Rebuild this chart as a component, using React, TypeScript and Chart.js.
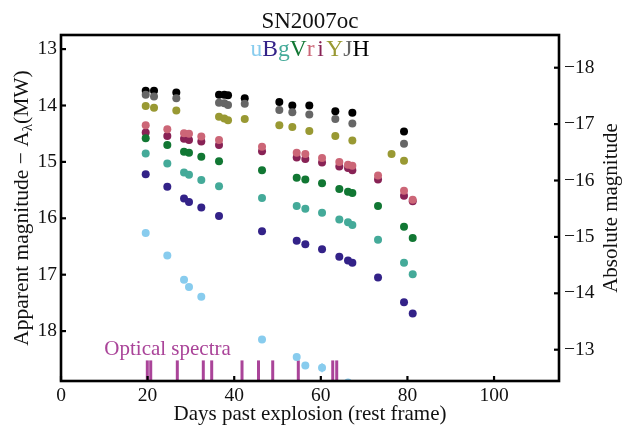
import React, { useEffect, useRef } from 'react';
import { Chart, registerables } from 'chart.js';

Chart.register(...registerables);

// ---- photometry (days past explosion, rest frame; apparent magnitude) ----
const uDays = [19.56, 24.55, 28.41, 29.56, 32.4, 46.42, 54.43, 56.42, 60.28, 66.28];
const uMags = [16.26, 16.66, 17.09, 17.22, 17.39, 18.15, 18.46, 18.61, 18.65, 18.91];
const uErrs = [0.03, 0.03, 0.03, 0.03, 0.03, 0.04, 0.05, 0.05, 0.08, 0.03];

const optDays = [19.56, 24.55, 28.41, 29.56, 32.4, 36.49, 46.42, 54.43, 56.42, 60.28, 64.27, 66.28, 67.28, 73.21, 79.21, 81.22];
const bMags = [15.22, 15.44, 15.65, 15.71, 15.81, 15.96, 16.23, 16.4, 16.46, 16.55, 16.68, 16.75, 16.79, 17.05, 17.49, 17.69];
const gMags = [14.85, 15.03, 15.19, 15.23, 15.32, 15.43, 15.64, 15.78, 15.83, 15.9, 16.02, 16.07, 16.12, 16.38, 16.79, 16.99];
const vMags = [14.58, 14.7, 14.82, 14.84, 14.91, 14.99, 15.15, 15.28, 15.31, 15.38, 15.48, 15.53, 15.55, 15.78, 16.15, 16.35];
const rMags = [14.35, 14.42, 14.49, 14.5, 14.55, 14.61, 14.73, 14.84, 14.86, 14.93, 15.0, 15.05, 15.07, 15.24, 15.51, 15.67];
const iMags = [14.48, 14.54, 14.59, 14.61, 14.64, 14.7, 14.81, 14.92, 14.95, 15.01, 15.08, 15.11, 15.15, 15.31, 15.6, 15.7];

const nirDays = [19.56, 21.48, 26.63, 36.49, 37.71, 38.57, 42.43, 50.42, 53.42, 57.34, 63.35, 67.28, 79.21];
const hMags = [13.74, 13.74, 13.77, 13.81, 13.81, 13.82, 13.87, 13.94, 14.0, 14.0, 14.1, 14.13, 14.46];
const jMags = [13.81, 13.84, 13.87, 13.95, 13.96, 13.99, 13.97, 14.08, 14.12, 14.16, 14.24, 14.32, 14.68];
const yDays = [19.56, 21.48, 26.63, 36.49, 37.71, 38.57, 42.43, 50.42, 53.42, 57.34, 63.35, 67.28, 76.33, 79.21];
const yMags = [14.01, 14.04, 14.09, 14.2, 14.23, 14.26, 14.24, 14.35, 14.38, 14.45, 14.54, 14.62, 14.86, 14.98];

// epochs of optical spectra
const spectraDays = [19.93, 20.72, 26.86, 32.86, 34.8, 41.8, 45.61, 48.89, 54.8, 62.75, 63.67];

// ---- axes ----
const xTicks = [0, 20, 40, 60, 80, 100];
const appTicks = [13, 14, 15, 16, 17, 18];
const absTicks = [-18, -17, -16, -15, -14, -13];
const xRange = [0, 115];
const appRange = [12.75, 18.885];
const distanceModulus = 31.33;

const FONT = '"Liberation Serif", "DejaVu Serif", serif';
const SPECTRA_COLOR = '#AA4499';

const bands = [
  { name: 'u', color: '#88CCEE', days: uDays, mags: uMags },
  { name: 'B', color: '#332288', days: optDays, mags: bMags },
  { name: 'g', color: '#44AA99', days: optDays, mags: gMags },
  { name: 'V', color: '#117733', days: optDays, mags: vMags },
  { name: 'r', color: '#CC6677', days: optDays, mags: rMags },
  { name: 'i', color: '#882255', days: optDays, mags: iMags },
  { name: 'Y', color: '#999933', days: yDays, mags: yMags },
  { name: 'J', color: '#666666', days: nirDays, mags: jMags },
  { name: 'H', color: '#000000', days: nirDays, mags: hMags },
];

const legendOrder = ['u', 'B', 'g', 'V', 'r', ' ', 'i', ' ', 'Y', 'J', 'H'];

const fmtMinus = (v: number) => (v < 0 ? '\u2212' + Math.abs(v) : String(v));

const decorations = {
  id: 'decorations',
  beforeDatasetsDraw(chart: any) {
    const { ctx, scales } = chart;
    const x = scales.x;
    const y = scales.y;
    const a = chart.chartArea;
    ctx.save();
    ctx.beginPath();
    ctx.rect(a.left, a.top, a.right - a.left, a.bottom - a.top);
    ctx.clip();
    // u-band error bars
    ctx.strokeStyle = bands[0].color;
    ctx.lineWidth = 1.5;
    uDays.forEach((d, i) => {
      const px = x.getPixelForValue(d);
      ctx.beginPath();
      ctx.moveTo(px, y.getPixelForValue(uMags[i] - uErrs[i]));
      ctx.lineTo(px, y.getPixelForValue(uMags[i] + uErrs[i]));
      ctx.stroke();
    });
    // spectral epochs
    ctx.strokeStyle = SPECTRA_COLOR;
    ctx.lineWidth = 3;
    const top = y.getPixelForValue(18.52);
    spectraDays.forEach((d) => {
      const px = x.getPixelForValue(d);
      ctx.beginPath();
      ctx.moveTo(px, top);
      ctx.lineTo(px, a.bottom);
      ctx.stroke();
    });
    ctx.restore();
  },
  afterDraw(chart: any) {
    const { ctx, chartArea: a, scales } = chart;
    const x = scales.x;
    const y = scales.y;
    const y2 = scales.y2;
    ctx.save();
    // frame
    ctx.strokeStyle = '#000';
    ctx.lineWidth = 2.6;
    ctx.strokeRect(a.left, a.top, a.right - a.left, a.bottom - a.top);
    // inward tick marks
    ctx.lineWidth = 2.2;
    const tl = 5;
    xTicks.forEach((v) => {
      const px = x.getPixelForValue(v);
      ctx.beginPath();
      ctx.moveTo(px, a.bottom);
      ctx.lineTo(px, a.bottom - tl);
      ctx.stroke();
    });
    appTicks.forEach((v) => {
      const py = y.getPixelForValue(v);
      ctx.beginPath();
      ctx.moveTo(a.left, py);
      ctx.lineTo(a.left + tl, py);
      ctx.stroke();
    });
    absTicks.forEach((v) => {
      const py = y2.getPixelForValue(v);
      ctx.beginPath();
      ctx.moveTo(a.right, py);
      ctx.lineTo(a.right - tl, py);
      ctx.stroke();
    });

    const cx = (a.left + a.right) / 2;
    const cy = (a.top + a.bottom) / 2;
    ctx.fillStyle = '#111';
    ctx.textBaseline = 'alphabetic';

    // title
    ctx.font = `23px ${FONT}`;
    ctx.textAlign = 'center';
    ctx.fillText('SN2007oc', cx, 28);

    // band legend
    ctx.font = `23.5px ${FONT}`;
    ctx.textAlign = 'left';
    const widths = legendOrder.map((c) => (c === ' ' ? ctx.measureText(c).width * 0.45 : ctx.measureText(c).width));
    let lx = cx - widths.reduce((s, w) => s + w, 0) / 2;
    legendOrder.forEach((c, i) => {
      const band = bands.find((b) => b.name === c);
      if (band) {
        ctx.fillStyle = band.color;
        ctx.fillText(c, lx, 56);
      }
      lx += widths[i];
    });

    // spectra label
    ctx.fillStyle = SPECTRA_COLOR;
    ctx.font = `21px ${FONT}`;
    ctx.fillText('Optical spectra', x.getPixelForValue(10), y.getPixelForValue(18.42));

    // axis titles
    ctx.fillStyle = '#111';
    ctx.textAlign = 'center';
    ctx.font = `21px ${FONT}`;
    ctx.fillText('Days past explosion (rest frame)', cx, 420);

    // left: Apparent magnitude − A_λ(MW)
    const main = 'Apparent magnitude \u2212 A';
    const sub = '\u03BB';
    const tail = '(MW)';
    ctx.font = `21.5px ${FONT}`;
    const wMain = ctx.measureText(main).width;
    const wTail = ctx.measureText(tail).width;
    ctx.font = `15px ${FONT}`;
    const wSub = ctx.measureText(sub).width;
    const total = wMain + wSub + wTail;
    ctx.save();
    ctx.translate(28, cy);
    ctx.rotate(-Math.PI / 2);
    ctx.textAlign = 'left';
    let tx = -total / 2;
    ctx.font = `21.5px ${FONT}`;
    ctx.fillText(main, tx, 0);
    tx += wMain;
    ctx.font = `15px ${FONT}`;
    ctx.fillText(sub, tx, 4);
    tx += wSub;
    ctx.font = `21.5px ${FONT}`;
    ctx.fillText(tail, tx, 0);
    ctx.restore();

    // right
    ctx.save();
    ctx.translate(617, cy);
    ctx.rotate(-Math.PI / 2);
    ctx.textAlign = 'center';
    ctx.font = `21px ${FONT}`;
    ctx.fillText('Absolute magnitude', 0, 0);
    ctx.restore();

    ctx.restore();
  },
};

export default function App() {
  const canvasRef = useRef<HTMLCanvasElement | null>(null);

  useEffect(() => {
    const canvas = canvasRef.current;
    if (!canvas) return;
    const tickFont = { family: FONT, size: 19.5 };
    const chart = new Chart(canvas, {
      type: 'scatter',
      data: {
        datasets: bands.map((b) => ({
          label: b.name,
          data: b.days.map((d, i) => ({ x: d, y: b.mags[i] })),
          backgroundColor: b.color,
          borderColor: b.color,
          borderWidth: 0,
          pointRadius: 4,
          pointHoverRadius: 4,
          yAxisID: 'y',
          clip: 0,
        })),
      },
      options: {
        responsive: false,
        animation: false,
        devicePixelRatio: 1,
        events: [],
        layout: { padding: { top: 35, left: 0, right: 0, bottom: 0 } },
        plugins: {
          legend: { display: false },
          tooltip: { enabled: false },
          title: { display: false },
        },
        scales: {
          x: {
            type: 'linear',
            position: 'bottom',
            min: xRange[0],
            max: xRange[1],
            grid: { display: false, drawTicks: false },
            border: { display: false },
            ticks: { font: tickFont, color: '#111', padding: 3, maxRotation: 0, autoSkip: false },
            afterBuildTicks: (s: any) => {
              s.ticks = xTicks.map((v) => ({ value: v }));
            },
            afterFit: (s: any) => {
              s.height = 47;
            },
          },
          y: {
            type: 'linear',
            position: 'left',
            reverse: true,
            min: appRange[0],
            max: appRange[1],
            grid: { display: false, drawTicks: false },
            border: { display: false },
            ticks: { font: tickFont, color: '#111', padding: 4, autoSkip: false, callback: (v: any) => fmtMinus(Number(v)) },
            afterBuildTicks: (s: any) => {
              s.ticks = appTicks.map((v) => ({ value: v }));
            },
            afterFit: (s: any) => {
              s.width = 61;
            },
          },
          y2: {
            type: 'linear',
            position: 'right',
            reverse: true,
            min: appRange[0] - distanceModulus,
            max: appRange[1] - distanceModulus,
            grid: { display: false, drawTicks: false },
            border: { display: false },
            ticks: { font: tickFont, color: '#111', padding: 5, autoSkip: false, callback: (v: any) => fmtMinus(Number(v)) },
            afterBuildTicks: (s: any) => {
              s.ticks = absTicks.map((v) => ({ value: v }));
            },
            afterFit: (s: any) => {
              s.width = 63;
            },
          },
        },
      } as any,
      plugins: [decorations],
    });
    return () => chart.destroy();
  }, []);

  return (
    <div style={{ position: 'fixed', left: 0, top: 0, width: 622, height: 428, background: '#fff' }}>
      <canvas ref={canvasRef} width={622} height={428} />
    </div>
  );
}
